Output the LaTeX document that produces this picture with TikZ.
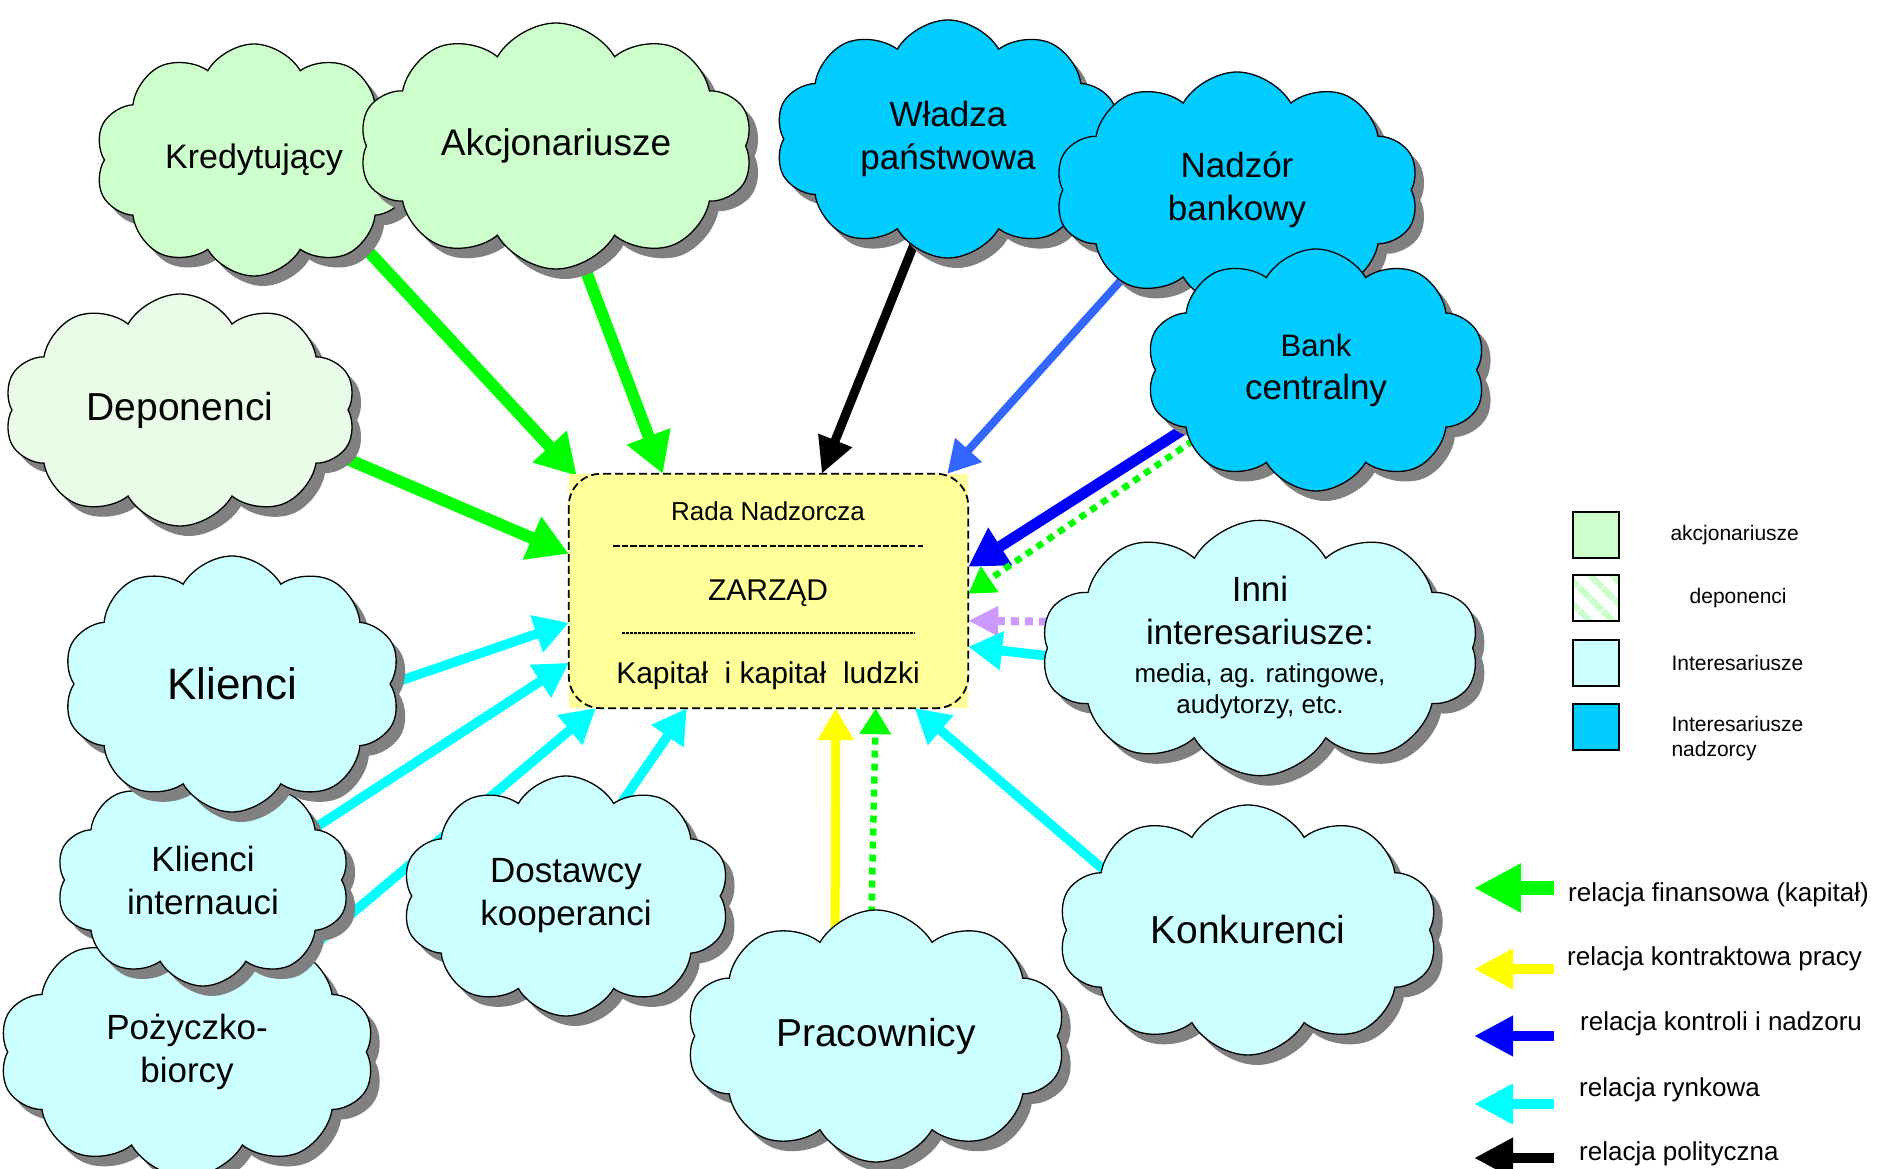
\documentclass[tikz,border=0pt]{standalone}
\usepackage{fontspec}
\setmainfont{Liberation Sans}
\usepackage{xcolor}
\usepackage{tikz}
\usetikzlibrary{arrows.meta,positioning,shapes.symbols,shadows,backgrounds,calc,patterns.meta}

\definecolor{shareGreen}{HTML}{CCFFCC}
\definecolor{depoGreen}{HTML}{E8FCE8}
\definecolor{stakeCyan}{HTML}{CCFFFF}
\definecolor{superBlue}{HTML}{00CCFF}
\definecolor{boardYellow}{HTML}{FFFF99}
\definecolor{shadowGray}{HTML}{808080}
\definecolor{finGreen}{HTML}{00FF00}
\definecolor{mktCyan}{HTML}{00FFFF}
\definecolor{workYellow}{HTML}{FFFF00}
\definecolor{ctrlBlue}{HTML}{0000FF}
\definecolor{watchBlue}{HTML}{3366FF}
\definecolor{mediaLilac}{HTML}{CC99FF}

\newcommand{\fsz}[2]{\fontsize{#1}{#2}\selectfont}

\tikzset{
  puff/.style={cloud, cloud puffs=10, cloud puff arc=120, cloud ignores aspect,
    draw=black, line width=1.3pt, align=center, inner sep=0pt, font=\fsz{35}{43},
    drop shadow={shadow xshift=9pt, shadow yshift=-10pt, fill=shadowGray, opacity=1}},
  share/.style={puff, fill=shareGreen},
  deposit/.style={puff, fill=depoGreen},
  stake/.style={puff, fill=stakeCyan},
  overseer/.style={puff, fill=superBlue},
  board/.style={rectangle, fill=boardYellow, minimum width=399pt, minimum height=234pt, inner sep=0pt},
  boardline/.style={draw=black, line width=1.8pt, dash pattern=on 8pt off 4pt, rounded corners=32pt},
  hyph/.style={line width=2.4pt, dash pattern=on 6.5pt off 2.2pt},
  hyphthin/.style={line width=1.2pt, dash pattern=on 3pt off 1pt},
  fin/.style={draw=finGreen, line width=12pt, -{Triangle[length=40pt,width=44pt]}},
  finDot/.style={draw=finGreen, line width=6.5pt, dash pattern=on 7pt off 6pt, -{Triangle[length=26pt,width=30pt]}},
  mkt/.style={draw=mktCyan, line width=9.5pt, -{Triangle[length=34pt,width=37pt]}},
  work/.style={draw=workYellow, line width=9pt, -{Triangle[length=32pt,width=34pt]}},
  ctrl/.style={draw=ctrlBlue, line width=11pt, -{Triangle[length=38pt,width=42pt]}},
  watch/.style={draw=watchBlue, line width=8pt, -{Triangle[length=32pt,width=34pt]}},
  pol/.style={draw=black, line width=9pt, -{Triangle[length=36pt,width=34pt]}},
  media/.style={draw=mediaLilac, line width=8pt, dash pattern=on 8pt off 6pt, -{Triangle[length=30pt,width=28pt]}},
  keybox/.style={draw=black, line width=2.6pt, minimum size=46pt, inner sep=0pt},
  keytext/.style={font=\fsz{21}{25}, inner sep=0pt, anchor=west, align=left},
  reltext/.style={font=\fsz{26}{31}, inner sep=0pt, anchor=base west}
}

\begin{document}
\begin{tikzpicture}[x=1pt, y=-1pt]
    \useasboundingbox (0,0) rectangle (1880,1169);
    % Shareholders and creditors
    \node[share, minimum width=318pt, minimum height=232pt] (kred) at (254,160) {\fsz{34}{41}Kredytujący};
    \node[share, minimum width=394pt, minimum height=246pt] (akcj) at (556,146) {\fsz{37}{44}Akcjonariusze};
    \node[deposit, minimum width=352pt, minimum height=232pt] (depo) at (180,410) {\fsz{39}{46}Deponenci};
    % Supervisors
    \node[overseer, minimum width=346pt, minimum height=238pt] (wladza) at (948,139) {Władza\\państwowa};
    \node[overseer, minimum width=364pt, minimum height=236pt] (nadzor) at (1237,190) {Nadzór\\bankowy};
    \node[overseer, minimum width=340pt, minimum height=242pt] (bank) at (1316,370) {\fsz{31}{42}Bank\\centralny};
    % Other stakeholders
    \node[stake, minimum width=438pt, minimum height=236pt] (inni) at (1260,648)
      {Inni\\interesariusze:\\[-5pt]\fsz{26}{31}media, ag. ratingowe,\\[-12pt]\fsz{26}{31}audytorzy, etc.};
    \node[stake, minimum width=376pt, minimum height=250pt] (pozy) at (187,1052) {Pożyczko-\\biorcy};
    \node[stake, minimum width=294pt, minimum height=212pt] (intern) at (203,880) {Klienci\\internauci};
    \node[stake, minimum width=338pt, minimum height=256pt] (klienci) at (232,684) {\fsz{44}{52}Klienci};
    \node[stake, minimum width=328pt, minimum height=240pt] (dost) at (566,896) {Dostawcy\\kooperanci};
    \node[stake, minimum width=380pt, minimum height=252pt] (prac) at (876,1036) {\fsz{39}{46}Pracownicy};
    \node[stake, minimum width=380pt, minimum height=250pt] (konk) at (1248,930) {\fsz{39}{46}Konkurenci};

    % Board
    \node[board] (board) at (768.5,591) {};
    \draw[boardline] (board.north west) rectangle (board.south east);
    \node[font=\fsz{26}{31}, anchor=base] (rada) at (768,520) {Rada Nadzorcza};
    \node[font=\fsz{30}{36}, anchor=base] (zarzad) at (768,600) {ZARZĄD};
    \node[font=\fsz{30}{36}, anchor=base] (kapital) at (768,683) {Kapitał\ \ i kapitał\ \ ludzki};
    \draw[hyph] (613,546) -- (923,546);
    \draw[hyphthin] (622,633) -- (915,633);

    % Arrow ends on the board
    \coordinate (inKred) at ($(board.north west)+(8,2)$);
    \coordinate (inAkcj) at ($(board.north west)+(94,0)$);
    \coordinate (inDepo) at ($(board.north west)+(0,80)$);
    \coordinate (inWladza) at ($(board.north west)+(253,0)$);
    \coordinate (inNadzor) at ($(board.north east)+(-21,0)$);
    \coordinate (inBank) at ($(board.north east)+(0,93)$);
    \coordinate (inBankFin) at ($(board.north east)+(0,120)$);
    \coordinate (inMedia) at ($(board.north east)+(0,147)$);
    \coordinate (inInni) at ($(board.north east)+(0,173)$);
    \coordinate (inKlienci) at ($(board.north west)+(0,149)$);
    \coordinate (inIntern) at ($(board.north west)+(0,189)$);
    \coordinate (inPozy) at ($(board.south west)+(27,0)$);
    \coordinate (inDost) at ($(board.south west)+(118,0)$);
    \coordinate (inPrac) at ($(board.south west)+(267,0)$);
    \coordinate (inPracFin) at ($(board.south west)+(307,0)$);
    \coordinate (inKonk) at ($(board.south west)+(346,0)$);

    \begin{pgfonlayer}{background}
      \fill[white] (0,0) rectangle (1880,1169);
      \begin{scope}[shorten <=-30pt]
        \draw[fin] (kred.-38) -- (inKred);
        \draw[fin] (akcj.-77) -- (inAkcj);
        \draw[fin] (depo.-16) -- (inDepo);
        \draw[pol] (wladza.-108) -- (inWladza);
        \draw[watch] (nadzor.-142) -- (inNadzor);
        \draw[ctrl] (bank.-156) -- (inBank);
        \draw[finDot] (bank.-150) -- (inBankFin);
        \draw[media] (inni.173) -- (inMedia);
        \draw[mkt] (inni.-178) -- (inInni);
        \draw[mkt] (klienci.0) -- (inKlienci);
        \draw[mkt] (intern.25) -- (inIntern);
        \draw[mkt] (pozy.40) -- (inPozy);
        \draw[mkt] (dost.59) -- (inDost);
        \draw[work] (prac.110) -- (inPrac);
        \draw[finDot] (prac.92) -- (inPracFin);
        \draw[mkt] (konk.157) -- (inKonk);
      \end{scope}
    \end{pgfonlayer}

    % Legend: stakeholder groups
    \node[keybox, fill=shareGreen] (key1) at (1596,535) {};
    \node[keybox, pattern={Lines[angle=-45,distance=17pt,line width=7pt]}, pattern color=shareGreen] (key2) at (1596,598) {};
    \node[keybox, fill=stakeCyan] (key3) at (1596,663) {};
    \node[keybox, fill=superBlue] (key4) at (1596,727) {};
    \node[keytext, right=50pt of key1] (keyt1) {akcjonariusze};
    \node[keytext, right=67pt of key2] (keyt2) {deponenci};
    \node[keytext, right=51pt of key3] (keyt3) {Interesariusze};
    \node[keytext, right=51pt of key4, yshift=-12pt] (keyt4) {Interesariusze\\nadzorcy};

    % Legend: relations
    \coordinate (rel1) at (1554,888);
    \draw[finGreen, line width=14pt, -{Triangle[length=47pt,width=46pt]}] (rel1) -- ++(-80,0);
    \foreach \i/\col/\ay in {2/workYellow/969, 3/ctrlBlue/1036, 4/mktCyan/1104, 5/black/1158} {
      \coordinate (rel\i) at (1554,\ay);
      \draw[\col, line width=10.5pt, -{Triangle[length=39pt,width=38pt]}] (rel\i) -- ++(-80,0);
    }
    \node[reltext] (relt1) at (1568,901) {relacja finansowa (kapitał)};
    \node[reltext] (relt2) at (1567,965) {relacja kontraktowa pracy};
    \node[reltext] (relt3) at (1580,1030) {relacja kontroli i nadzoru};
    \node[reltext] (relt4) at (1579,1096) {relacja rynkowa};
    \node[reltext] (relt5) at (1579,1160) {relacja polityczna};
\end{tikzpicture}
\end{document}
